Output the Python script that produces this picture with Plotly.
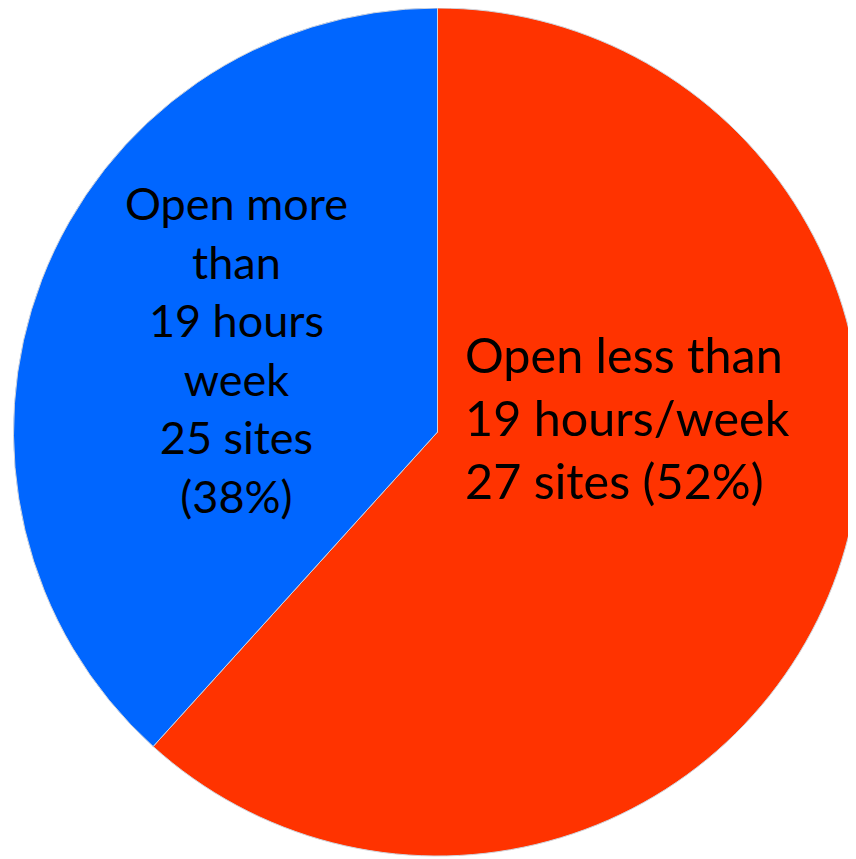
import plotly.graph_objects as go

# Data
labels = ["Open less than 19 hours/week", "Open more than 19 hours week"]
values = [61.7, 38.3]
site_counts = [27, 25]
label_pcts = [52, 38]
colors = ["#FF3300", "#0066FF"]

# The page body has an 8px default margin; the figure is made a bit wider so the
# pie can run past the right edge of the window like in the reference.
W, H = 870, 859
cx, cy, r = 429.5, 424.0, 424.0  # pie centre/radius in figure pixels

fig = go.Figure(
    go.Pie(
        labels=labels,
        values=values,
        sort=False,
        direction="clockwise",
        rotation=0,
        marker=dict(colors=colors, line=dict(color="#d0d4dc", width=1)),
        textinfo="none",
        hoverinfo="label+percent",
        showlegend=False,
        domain=dict(
            x=[(cx - r) / W, (cx + r) / W],
            y=[(H - (cy + r)) / H, (H - (cy - r)) / H],
        ),
    )
)

red_text = (
    f"Open less than<br>19 hours/week<br>{site_counts[0]} sites ({label_pcts[0]}%)"
)
blue_text = (
    f"Open more<br>than<br>19 hours<br>week<br>{site_counts[1]} sites<br>({label_pcts[1]}%)"
)

fig.add_annotation(
    text=red_text, xref="paper", yref="paper",
    x=455 / W, y=1 - 409 / H, xanchor="left", yanchor="middle",
    align="left", showarrow=False,
    font=dict(family="Lato", size=48.5, color="black"),
)
fig.add_annotation(
    text=blue_text, xref="paper", yref="paper",
    x=228 / W, y=1 - 341 / H, xanchor="center", yanchor="middle",
    align="center", showarrow=False,
    font=dict(family="Lato", size=45, color="black"),
)

fig.update_layout(
    width=W, height=H,
    margin=dict(l=0, r=0, t=0, b=0),
    paper_bgcolor="white",
    plot_bgcolor="white",
)

fig.write_html("out.html")
